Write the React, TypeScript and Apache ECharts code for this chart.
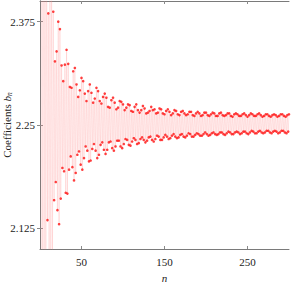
import React, { useEffect, useRef } from "react";
import * as echarts from "echarts";

// b_n for even n = 2, 4, ..., 300 (upper branch)
const upperEven: number[] = [
  3.2, 2.8, 2.62, 2.5, 2.385, 2.45, 2.42, 2.387, 2.327, 2.339,
  2.375, 2.366, 2.322, 2.303, 2.323, 2.341, 2.324, 2.296, 2.295, 2.315,
  2.319, 2.299, 2.284, 2.292, 2.307, 2.303, 2.288, 2.279, 2.291, 2.299,
  2.289, 2.277, 2.282, 2.295, 2.291, 2.279, 2.276, 2.284, 2.288, 2.283,
  2.272, 2.271, 2.28, 2.283, 2.277, 2.269, 2.271, 2.279, 2.278, 2.275,
  2.268, 2.271, 2.275, 2.274, 2.267, 2.266, 2.272, 2.275, 2.268, 2.265,
  2.268, 2.273, 2.27, 2.264, 2.265, 2.267, 2.272, 2.268, 2.269, 2.264,
  2.265, 2.27, 2.269, 2.264, 2.263, 2.267, 2.269, 2.266, 2.262, 2.264,
  2.268, 2.267, 2.263, 2.262, 2.266, 2.267, 2.264, 2.262, 2.263, 2.266,
  2.266, 2.262, 2.261, 2.264, 2.266, 2.264, 2.261, 2.262, 2.265, 2.265,
  2.262, 2.261, 2.263, 2.265, 2.264, 2.261, 2.261, 2.264, 2.265, 2.262,
  2.261, 2.262, 2.264, 2.264, 2.261, 2.26, 2.263, 2.264, 2.263, 2.261,
  2.261, 2.263, 2.264, 2.262, 2.26, 2.262, 2.264, 2.263, 2.261, 2.261,
  2.263, 2.264, 2.262, 2.26, 2.261, 2.263, 2.263, 2.261, 2.26, 2.262,
  2.263, 2.262, 2.26, 2.261, 2.263, 2.263, 2.261, 2.26, 2.262, 2.263,
];

// b_n for odd n = 1, 3, ..., 299 (lower branch)
const lowerOdd: number[] = [
  1.3, 1.75, 1.92, 2.02, 2.135, 2.07, 2.085, 2.095, 2.159, 2.181,
  2.147, 2.13, 2.161, 2.198, 2.194, 2.168, 2.167, 2.196, 2.212, 2.199,
  2.183, 2.192, 2.214, 2.218, 2.202, 2.196, 2.21, 2.224, 2.219, 2.206,
  2.207, 2.221, 2.227, 2.219, 2.21, 2.214, 2.226, 2.229, 2.22, 2.215,
  2.22, 2.229, 2.23, 2.222, 2.219, 2.224, 2.231, 2.231, 2.224, 2.222,
  2.227, 2.233, 2.232, 2.226, 2.225, 2.23, 2.234, 2.232, 2.227, 2.228,
  2.233, 2.235, 2.232, 2.229, 2.231, 2.235, 2.236, 2.232, 2.23, 2.233,
  2.237, 2.236, 2.232, 2.232, 2.235, 2.238, 2.236, 2.233, 2.234, 2.237,
  2.239, 2.236, 2.234, 2.235, 2.238, 2.239, 2.236, 2.235, 2.237, 2.24,
  2.239, 2.236, 2.236, 2.238, 2.24, 2.239, 2.237, 2.237, 2.239, 2.241,
  2.239, 2.237, 2.238, 2.24, 2.241, 2.239, 2.238, 2.239, 2.241, 2.241,
  2.239, 2.238, 2.24, 2.242, 2.241, 2.239, 2.239, 2.241, 2.242, 2.241,
  2.239, 2.24, 2.242, 2.242, 2.24, 2.239, 2.241, 2.243, 2.242, 2.24,
  2.24, 2.242, 2.243, 2.241, 2.24, 2.241, 2.243, 2.243, 2.241, 2.24,
  2.242, 2.243, 2.242, 2.24, 2.241, 2.243, 2.243, 2.241, 2.24, 2.242,
];

const xTicks: number[] = [50, 150, 250];
const yTicks: number[] = [2.125, 2.25, 2.375];

const FONT = "Liberation Serif";

export default function App() {
  const ref = useRef<HTMLDivElement>(null);

  useEffect(() => {
    if (!ref.current) return;
    const chart = echarts.init(ref.current, undefined, { renderer: "svg" });

    const pts: [number, number][] = [];
    for (let i = 0; i < lowerOdd.length; i++) {
      pts.push([2 * i + 1, lowerOdd[i]]);
      if (i < upperEven.length) pts.push([2 * i + 2, upperEven[i]]);
    }

    const axisLine = { show: true, lineStyle: { color: "#7a7a7a", width: 1 } };
    const tick = { show: true, inside: true, length: 3, lineStyle: { color: "#8a8a8a", width: 1 } };

    chart.setOption({
      animation: false,
      backgroundColor: "#ffffff",
      grid: { left: 40, right: 2, top: 1, bottom: 34, containLabel: false, outerBoundsMode: "none" },
      xAxis: [
        {
          type: "value",
          min: 0,
          max: 300,
          position: "bottom",
          axisLine,
          axisTick: { ...tick, customValues: xTicks },
          axisLabel: {
            customValues: xTicks,
            color: "#222",
            fontFamily: FONT,
            fontSize: 11,
            margin: 7,
          },
          splitLine: { show: false },
          name: "n",
          nameLocation: "middle",
          nameGap: 23,
          nameMoveOverlap: false,
          nameTextStyle: { fontFamily: FONT, fontStyle: "italic", fontSize: 11, color: "#222" },
        },
        {
          type: "value",
          min: 0,
          max: 300,
          position: "top",
          axisLine,
          axisTick: { ...tick, customValues: xTicks },
          axisLabel: { show: false },
          splitLine: { show: false },
        },
      ],
      yAxis: [
        {
          type: "value",
          min: 2.1,
          max: 2.4,
          position: "left",
          axisLine,
          axisTick: { ...tick, customValues: yTicks },
          axisLabel: {
            customValues: yTicks,
            color: "#222",
            fontFamily: FONT,
            fontSize: 11,
            margin: 5,
          },
          splitLine: { show: false },
          name: "{t|Coefficients }{i|b}{s|n}",
          nameLocation: "middle",
          nameRotate: 90,
          nameGap: 27,
          nameMoveOverlap: false,
          nameTextStyle: {
            rich: {
              t: { fontFamily: FONT, fontSize: 11, color: "#222", lineHeight: 12, verticalAlign: "middle" },
              i: { fontFamily: FONT, fontSize: 11, fontStyle: "italic", color: "#222", lineHeight: 12, verticalAlign: "middle" },
              s: { fontFamily: FONT, fontSize: 7.5, fontStyle: "italic", color: "#222", lineHeight: 7, verticalAlign: "bottom" },
            },
          },
        },
        {
          type: "value",
          min: 2.1,
          max: 2.4,
          position: "right",
          axisLine,
          axisTick: { ...tick, customValues: yTicks },
          axisLabel: { show: false },
          splitLine: { show: false },
        },
      ],
      series: [
        {
          type: "line",
          data: pts,
          showSymbol: false,
          clip: true,
          lineStyle: { color: "#ff8c8c", width: 0.6, opacity: 0.35 },
          silent: true,
          z: 1,
        },
        {
          type: "scatter",
          data: pts,
          symbol: "circle",
          symbolSize: 2.6,
          clip: true,
          itemStyle: { color: "#ff1010" },
          silent: true,
          z: 2,
        },
      ],
    });

    return () => chart.dispose();
  }, []);

  return <div ref={ref} style={{ width: 291, height: 283, position: "absolute", left: 0, top: 0 }} />;
}
